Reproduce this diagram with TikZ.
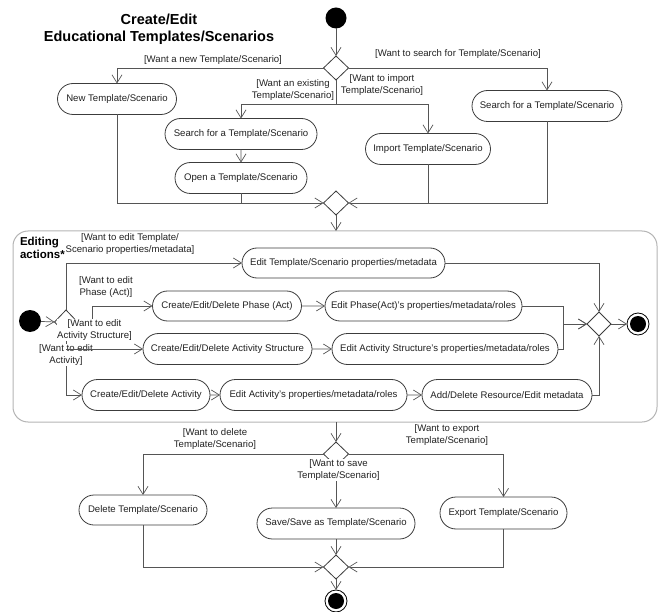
\documentclass[tikz,border=0pt]{standalone}
\usepackage{fontspec}
\setmainfont{Liberation Sans}
\usetikzlibrary{shapes.geometric,shapes.misc,arrows.meta}
\definecolor{boxc}{HTML}{3C3C3C}
\definecolor{linec}{HTML}{555555}
\definecolor{txtc}{HTML}{222222}
\definecolor{framec}{HTML}{B4B4B4}
\begin{document}
\begin{tikzpicture}[x=1pt,y=-1pt,
 every node/.style={inner sep=0pt, outer sep=0pt},
 act/.style={rounded rectangle, draw=boxc, line width=0.8pt, fill=white,
   font=\fontsize{9.6}{11.5}\selectfont, text=txtc, minimum height=31},
 dec/.style={diamond, draw=boxc, line width=0.8pt, fill=white, minimum width=25, minimum height=24},
 startn/.style={circle, fill=black, minimum size=21},
 endn/.style={circle, draw=black, line width=0.8pt, fill=white, minimum size=22},
 lbl/.style={font=\fontsize{9.6}{12}\selectfont, text=txtc, align=center, inner sep=0.5pt},
 lblw/.style={lbl, fill=white},
 arr/.style={-{Straight Barb[length=8pt,width=10pt]}, draw=linec, line width=0.7pt},
 ln/.style={draw=linec, line width=0.7pt},
 frm/.style={rectangle, draw=framec, line width=1pt, rounded corners=15, minimum width=644, minimum height=191},
 ttl/.style={font=\fontsize{14.5}{17}\selectfont\bfseries, text=black, align=center},
 ettl/.style={font=\fontsize{11.5}{13}\selectfont\bfseries, text=black, align=left}
]
\useasboundingbox (0,0) rectangle (661,612);

% ---------- top part ----------
\node[ttl] (title) at (159,29.5) {Create/Edit\\Educational Templates/Scenarios};
\node[startn] (s1) at (336,18) {};
\node[dec] (d1) at (336,68) {};
\node[act, minimum width=119] (newT) at (117,99) {New Template/Scenario};
\node[act, minimum width=152] (searchL) at (241,134) {Search for a Template/Scenario};
\node[act, minimum width=132] (openT) at (241,178) {Open a Template/Scenario};
\node[act, minimum width=125] (importT) at (428,149) {Import Template/Scenario};
\node[act, minimum width=150] (searchR) at (547,106) {Search for a Template/Scenario};
\node[dec] (m1) at (336,203) {};
\coordinate (j1) at (336,104);

\draw[arr] (s1) -- (d1.north);
\draw[arr] (d1.west) -| (newT.north);
\draw[arr] (d1.east) -| (searchR.north);
\draw[ln] (d1.south) -- (j1);
\draw[arr] (j1) -| (searchL.north);
\draw[arr] (j1) -| (importT.north);
\draw[arr] (searchL) -- (openT);
\draw[arr] (newT.south) |- (m1.west);
\draw[arr] (searchR.south) |- (m1.east);
\draw[ln] (openT.south) -- (openT.south |- m1.west);
\draw[ln] (importT.south) -- (importT.south |- m1.east);

\node[lbl] (lnew) at (213,60) {[Want a new Template/Scenario]};
\node[lbl] (lsearch) at (458,54) {[Want to search for Template/Scenario]};
\node[lbl] (lexist) at (293,90) {[Want an existing\\Template/Scenario]};
\node[lbl] (limport) at (382,85.5) {[Want to import\\Template/Scenario]};

% ---------- editing frame ----------
\node[frm] (frame) at (335,326.5) {};
\draw[arr] (m1.south) -- (m1.south |- frame.north);
\node[ettl, anchor=north west] (etitle) at (20,237) {Editing\\actions*};

\node[startn, minimum size=22] (s2) at (30,321) {};
\node[dec, minimum width=23] (d2) at (66,322) {};
\node[act, minimum width=203, minimum height=30] (eTemp) at (343.5,263) {Edit Template/Scenario properties/metadata};
\node[act, minimum width=149, minimum height=30] (cPhase) at (227,306) {Create/Edit/Delete Phase (Act)};
\node[act, minimum width=197, minimum height=30] (ePhase) at (423.5,306) {Edit Phase(Act)'s properties/metadata/roles};
\node[act, minimum width=169] (cAS) at (227.5,349) {Create/Edit/Delete Activity Structure};
\node[act, minimum width=226] (eAS) at (445,349) {Edit Activity Structure's properties/metadata/roles};
\node[act, minimum width=128] (cAct) at (146,395) {Create/Edit/Delete Activity};
\node[act, minimum width=187] (eAct) at (313.5,395) {Edit Activity's properties/metadata/roles};
\node[act, minimum width=170] (addR) at (507,395) {Add/Delete Resource/Edit metadata};
\node[dec, minimum width=24] (d3) at (599,324) {};
\node[endn] (e1) at (638,324) {};
\fill (e1.center) circle (8);

\draw[arr] (s2) -- (d2.west);
\draw[arr] (d2.north) |- (eTemp.west);
\draw[arr] (d2.east) -- ++(15,0) |- (cPhase.west);
\draw[arr] (d2.south) |- (cAct.west);
\draw[arr] (cPhase) -- (ePhase);
\draw[arr] (cAS) -- (eAS);
\draw[arr] (cAct) -- (eAct);
\draw[arr] (eAct) -- (addR);
\draw[arr] (eTemp.east) -| (d3.north);
\draw[arr] (ePhase.east) -- ++(41,0) |- (d3.west);
\draw[arr] (eAS.east) -- ++(5,0) |- (d3.west);
\draw[arr] (addR.east) -| (d3.south);
\draw[arr] (d3.east) -- (e1.west);

\node[lbl] (leT) at (130,244.5) {[Want to edit Template/\\Scenario properties/metadata]};
\node[lbl] (lph) at (106,287) {[Want to edit\\Phase (Act)]};
\node[lblw] (las) at (94.5,330) {[Want to edit\\Activity Structure]};
\node[lblw] (lac) at (66,355) {[Want to edit\\Activity]};
\draw[arr] (d2.south |- cAS.west) -- (cAS.west);

% ---------- bottom part ----------
\node[dec] (d4) at (336,454) {};
\node[act, minimum width=128, minimum height=30] (del) at (143,510) {Delete Template/Scenario};
\node[act, minimum width=158] (save) at (336,523.5) {Save/Save as Template/Scenario};
\node[act, minimum width=127, minimum height=32] (exp) at (503.5,513) {Export Template/Scenario};
\node[dec] (m2) at (336,567) {};
\node[endn] (e2) at (336,601) {};
\fill (e2.center) circle (8);

\draw[arr] (d4.north |- frame.south) -- (d4.north);
\draw[arr] (d4.west) -| (del.north);
\draw[arr] (d4.east) -| (exp.north);
\draw[arr] (d4.south) -- (save.north);
\draw[arr] (del.south) |- (m2.west);
\draw[arr] (exp.south) |- (m2.east);
\draw[arr] (save.south) -- (m2.north);
\draw[arr] (m2.south) -- (e2.north);

\node[lbl] (ldel) at (215,439.5) {[Want to delete\\Template/Scenario]};
\node[lbl] (lexp) at (447,435.5) {[Want to export\\Template/Scenario]};
\node[lblw] (lsave) at (338.5,470) {[Want to save\\Template/Scenario]};
\end{tikzpicture}
\end{document}
